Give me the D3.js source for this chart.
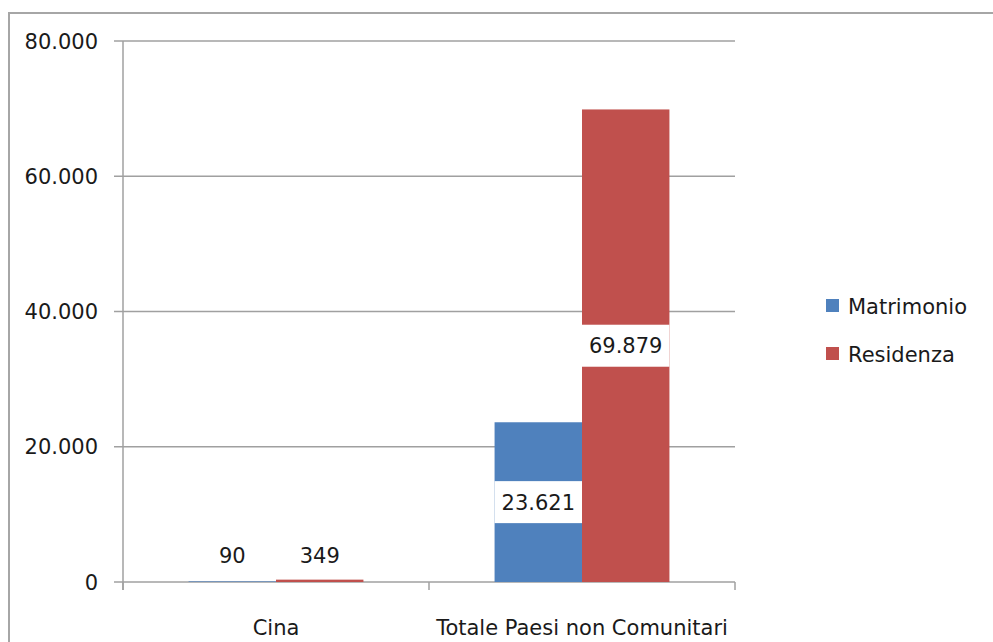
<!DOCTYPE html>
<html>
<head>
<meta charset="utf-8">
<script src="https://cdn.jsdelivr.net/npm/d3@7/dist/d3.min.js"></script>
<style>
  html, body { margin: 0; padding: 0; background: #fff; }
  svg { display: block; }
  text { font-family: "DejaVu Sans", Verdana, sans-serif; fill: #1a1a1a; }
</style>
</head>
<body>
<svg id="chart" width="993" height="642"></svg>
<script>
const categories = ["Cina", "Totale Paesi non Comunitari"];
const seriesNames = ["Matrimonio", "Residenza"];
const matrimonio = [90, 23621];
const residenza = [349, 69879];
const yTicks = [0, 20000, 40000, 60000, 80000];
const colors = ["#4F81BD", "#C0504D"];

const seriesValues = [matrimonio, residenza];
const locale = d3.formatLocale({decimal: ",", thousands: ".", grouping: [3], currency: ["€", ""]});
const fmt = locale.format(",d");

const svg = d3.select("#chart");
const fs = 21;

// outer frame
svg.append("rect").attr("x", 9).attr("y", 13).attr("width", 1100).attr("height", 800)
  .attr("fill", "none").attr("stroke", "#a6a6a6").attr("stroke-width", 2);

const pLeft = 123, pRight = 735, pTop = 41, pBottom = 582;
const y = d3.scaleLinear().domain([0, 80000]).range([pBottom, pTop]);
const x0 = d3.scaleBand().domain(categories).range([pLeft, pRight]).paddingInner(0).paddingOuter(0);
const x1 = d3.scaleBand().domain(seriesNames).range([0, x0.bandwidth()]).paddingInner(0).paddingOuter(0.75);

// gridlines + y ticks
const g = svg.append("g");
g.selectAll("line.grid").data(yTicks).join("line")
  .attr("x1", pLeft - 9).attr("x2", pRight)
  .attr("y1", d => y(d)).attr("y2", d => y(d))
  .attr("stroke", "#a0a0a0").attr("stroke-width", 1.5);
g.selectAll("text.ytick").data(yTicks).join("text")
  .attr("x", 98).attr("y", d => y(d)).attr("dy", "0.36em")
  .attr("text-anchor", "end").attr("font-size", fs)
  .text(d => fmt(d));

// y axis line
g.append("line").attr("x1", pLeft).attr("x2", pLeft).attr("y1", pTop).attr("y2", pBottom + 8)
  .attr("stroke", "#a0a0a0").attr("stroke-width", 1.5);

// category ticks
const boundaries = [pLeft].concat(categories.map(c => x0(c) + x0.bandwidth()));
g.selectAll("line.xtick").data(boundaries).join("line")
  .attr("x1", d => d).attr("x2", d => d).attr("y1", pBottom).attr("y2", pBottom + 8)
  .attr("stroke", "#a0a0a0").attr("stroke-width", 1.5);

// category labels
g.selectAll("text.cat").data(categories).join("text")
  .attr("x", d => x0(d) + x0.bandwidth() / 2).attr("y", 627).attr("dy", "0.36em")
  .attr("text-anchor", "middle").attr("font-size", fs)
  .text(d => d);

// bars
const barData = [];
categories.forEach((c, ci) => {
  seriesNames.forEach((s, si) => {
    barData.push({cat: c, series: s, si, value: seriesValues[si][ci]});
  });
});

svg.append("g").selectAll("rect").data(barData).join("rect")
  .attr("x", d => x0(d.cat) + x1(d.series))
  .attr("y", d => y(d.value))
  .attr("width", x1.bandwidth())
  .attr("height", d => y(0) - y(d.value))
  .attr("fill", d => colors[d.si]);

// data labels
const lab = svg.append("g");
barData.forEach(d => {
  const h = y(0) - y(d.value);
  const cx = x0(d.cat) + x1(d.series) + x1.bandwidth() / 2;
  if (h > 50) {
    const cy = (y(0) + y(d.value)) / 2;
    lab.append("rect").attr("x", x0(d.cat) + x1(d.series)).attr("y", cy - 21)
      .attr("width", x1.bandwidth()).attr("height", 42).attr("fill", "#fff");
    lab.append("text").attr("x", cx).attr("y", cy).attr("dy", "0.36em")
      .attr("text-anchor", "middle").attr("font-size", fs).text(fmt(d.value));
  } else {
    lab.append("text").attr("x", cx).attr("y", y(0) - 27).attr("dy", "0.36em")
      .attr("text-anchor", "middle").attr("font-size", fs).text(fmt(d.value));
  }
});

// legend
const leg = svg.append("g");
const legY = [306, 354];
seriesNames.forEach((s, i) => {
  leg.append("rect").attr("x", 826).attr("y", legY[i] - 7).attr("width", 13).attr("height", 13)
    .attr("fill", colors[i]);
  leg.append("text").attr("x", 848).attr("y", legY[i]).attr("dy", "0.36em")
    .attr("font-size", fs).text(s);
});
</script>
</body>
</html>
